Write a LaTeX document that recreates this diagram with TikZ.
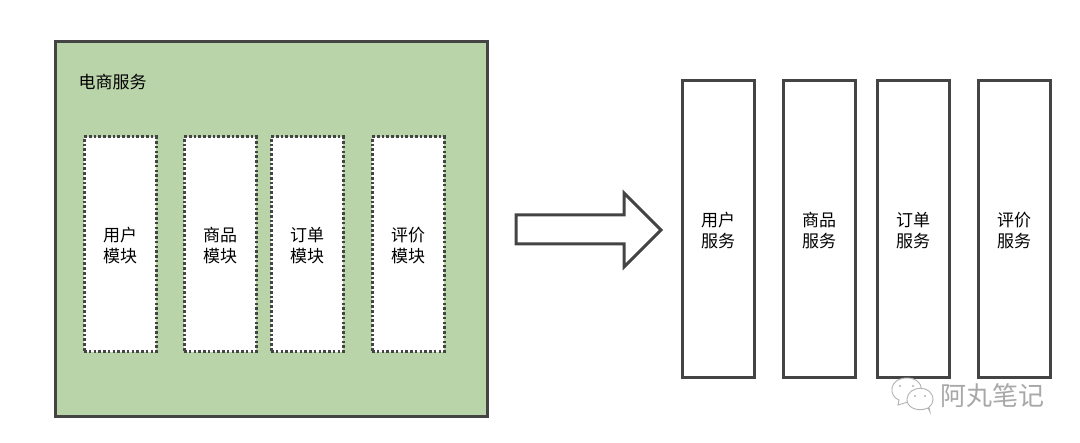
\documentclass[tikz,border=0pt]{standalone}
\usepackage{fontspec}
\setmainfont{Noto Sans CJK SC}
\definecolor{boxgreen}{HTML}{BAD4A9}
\definecolor{edge}{HTML}{444444}
\definecolor{wm}{HTML}{A8A8A8}
\newcommand{\lw}{\rule{0pt}{16.5pt}}
\tikzset{
  px/.style={x=1pt,y=-1pt},
  mainbox/.style={draw=edge,line width=3pt,fill=boxgreen,outer sep=0pt},
  modbox/.style={draw=edge,line width=3pt,fill=white,dash pattern=on 2.6pt off 2.15pt,minimum width=72pt,anchor=north west,inner sep=0pt,outer sep=0pt,align=center,font=\fontsize{17}{21.5}\selectfont,text=black},
  svcbox/.style={draw=edge,line width=3pt,fill=white,minimum width=72pt,minimum height=297pt,anchor=north west,inner sep=0pt,outer sep=0pt,align=center,font=\fontsize{17}{21}\selectfont,text=black},
  wmbubble/.style={draw=black!30,line width=0.9pt,fill=white},
}
\begin{document}
\begin{tikzpicture}[px]
\useasboundingbox (0,0) rectangle (1080,443);
\fill[white] (0,0) rectangle (1080,443);
\node[mainbox,minimum width=432pt,minimum height=375pt,anchor=north west,inner sep=0pt] (main) at (55,42) {};
\node[anchor=west,inner sep=0pt,font=\fontsize{17}{20}\selectfont] (title) at (78.5,82) {电商服务};
\node[modbox,minimum height=215pt] (m1) at (84,137) {\lw{}用户\\模块};
\node[modbox,minimum height=215pt] (m2) at (184,137) {\lw{}商品\\模块};
\node[modbox,minimum height=215pt] (m3) at (271,137) {\lw{}订单\\模块};
\node[modbox,minimum height=215pt] (m4) at (372,137) {\lw{}评价\\模块};
\draw[edge,line width=3pt,fill=white,line join=miter] (516,215) -- (624,215) -- (624,193) -- (661,230) -- (624,267) -- (624,244) -- (516,244) -- cycle;
\node[svcbox] (s1) at (682,81) {\lw{}用户\\服务};
\node[svcbox] (s2) at (783,81) {\lw{}商品\\服务};
\node[svcbox] (s3) at (877,81) {\lw{}订单\\服务};
\node[svcbox] (s4) at (978,81) {\lw{}评价\\服务};
% watermark
\draw[wmbubble] (898,405) -- (899,400) .. controls (888,396) and (889,378) .. (907,378) .. controls (925,378) and (927,398) .. (908,402) -- cycle;
\fill[black!30] (900,386) circle (1.1pt) (913,386) circle (1.1pt);
\draw[wmbubble] (930,412) -- (928,408) .. controls (916,413) and (906,406) .. (907,399) .. controls (908,385) and (933,384) .. (933,400) .. controls (933,403) and (931,406) .. (929,407) -- cycle;
\fill[black!30] (915,396) circle (1.1pt) (925,396) circle (1.1pt);
\node[anchor=west,inner sep=0pt,text=wm,font=\fontsize{26}{28}\selectfont] (wmark) at (940,396) {阿丸笔记};
\end{tikzpicture}
\end{document}
